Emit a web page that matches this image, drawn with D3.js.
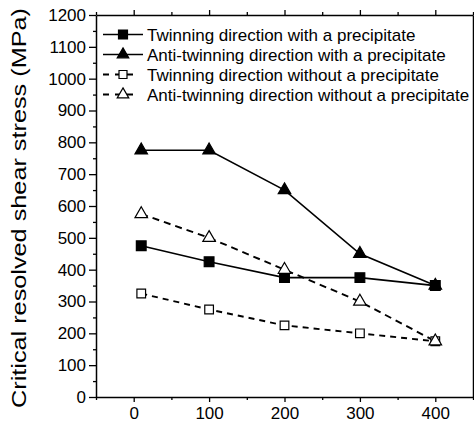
<!DOCTYPE html>
<html>
<head>
<meta charset="utf-8">
<script src="https://cdn.jsdelivr.net/npm/d3@7"></script>
<style>
  body { margin: 0; background: #fff; }
  svg { display: block; }
  text { font-family: "Liberation Sans", Arial, sans-serif; fill: #000; }
</style>
</head>
<body>
<svg id="chart" width="474" height="424"></svg>
<script>
// data
const temps = [10, 100, 200, 300, 400];
const twinWith = [475, 425, 375, 375, 350];
const antiWith = [775, 775, 650, 450, 350];
const twinWithout = [325, 275, 225, 200, 175];
const antiWithout = [575, 500, 400, 300, 175];

const seriesNames = [
    "Twinning direction with a precipitate",
    "Anti-twinning direction with a precipitate",
    "Twinning direction without a precipitate",
    "Anti-twinning direction without a precipitate"
];

const xTicks = [0, 100, 200, 300, 400];
const yTicks = [0, 100, 200, 300, 400, 500, 600, 700, 800, 900, 1000, 1100, 1200];

const svg = d3.select("#chart");

const x = d3.scaleLinear().domain([-50, 450]).range([96, 473]);
const y = d3.scaleLinear().domain([0, 1200]).range([397, 15]);

const minorX = d3.range(-50, 451, 50).filter(v => v % 100 !== 0);
const minorY = d3.range(50, 1200, 100);

// minor ticks first
svg.append("g").attr("transform", `translate(0,${y(0)})`)
    .call(d3.axisBottom(x).tickValues(minorX).tickSize(3).tickFormat("").tickSizeOuter(0))
    .call(g => g.select(".domain").remove());
svg.append("g").attr("transform", `translate(0,${y(1200)})`)
    .call(d3.axisTop(x).tickValues(minorX).tickSize(3).tickFormat("").tickSizeOuter(0))
    .call(g => g.select(".domain").remove());
svg.append("g").attr("transform", `translate(${x(-50)},0)`)
    .call(d3.axisLeft(y).tickValues(minorY).tickSize(3).tickFormat("").tickSizeOuter(0))
    .call(g => g.select(".domain").remove());

// bottom axis
const xAxis = svg.append("g").attr("transform", `translate(0,${y(0)})`)
    .call(d3.axisBottom(x).tickValues(xTicks).tickSize(5).tickPadding(5).tickSizeOuter(0));
xAxis.selectAll("text").style("font-size", "17px");

// top axis (ticks only)
svg.append("g").attr("transform", `translate(0,${y(1200)})`)
    .call(d3.axisTop(x).tickValues(xTicks).tickSize(5).tickFormat("").tickSizeOuter(0));

// left axis
const yAxis = svg.append("g").attr("transform", `translate(${x(-50)},0)`)
    .call(d3.axisLeft(y).tickValues(yTicks).tickFormat(d3.format("d")).tickSize(7).tickPadding(3).tickSizeOuter(0));
yAxis.selectAll("text").style("font-size", "17px");

// right border
svg.append("g").attr("transform", `translate(${x(450)},0)`)
    .call(d3.axisRight(y).tickValues([]).tickSizeOuter(0));

svg.selectAll(".domain").attr("stroke", "#000").attr("stroke-width", 1.5);
svg.selectAll(".tick line").attr("stroke", "#000").attr("stroke-width", 1.3);

// y label
svg.append("text")
    .attr("transform", "rotate(-90)")
    .attr("x", -208)
    .attr("y", 26)
    .attr("text-anchor", "middle")
    .attr("textLength", 400)
    .attr("lengthAdjust", "spacingAndGlyphs")
    .style("font-size", "20px")
    .text("Critical resolved shear stress (MPa)");

const series = [
    { name: seriesNames[0], values: twinWith, shape: d3.symbolSquare, size: 95, filled: true, dash: null },
    { name: seriesNames[1], values: antiWith, shape: d3.symbolTriangle, size: 68, filled: true, dash: null },
    { name: seriesNames[2], values: twinWithout, shape: d3.symbolSquare, size: 75, filled: false, dash: "6,5" },
    { name: seriesNames[3], values: antiWithout, shape: d3.symbolTriangle, size: 68, filled: false, dash: "7,5" }
];

const line = d3.line().x(d => x(d[0])).y(d => y(d[1]));

series.forEach(s => {
    const pts = temps.map((t, i) => [t, s.values[i]]);
    svg.append("path")
        .datum(pts)
        .attr("fill", "none")
        .attr("stroke", "#000")
        .attr("stroke-width", s.dash ? 1.9 : 1.6)
        .attr("stroke-dasharray", s.dash)
        .attr("d", line);
});

series.forEach(s => {
    const sym = d3.symbol().type(s.shape).size(s.size);
    svg.append("g").selectAll("path")
        .data(temps.map((t, i) => [t, s.values[i]]))
        .join("path")
        .attr("transform", d => `translate(${x(d[0])},${y(d[1])})`)
        .attr("d", sym)
        .attr("fill", s.filled ? "#000" : "#fff")
        .attr("stroke", "#000")
        .attr("stroke-width", 1.2);
});

// legend
const legend = svg.append("g");
series.forEach((s, i) => {
    const by = 40.5 + i * 20;
    const cy = by - 6;
    legend.append("line")
        .attr("x1", 103).attr("x2", s.dash ? 135 : 143)
        .attr("y1", cy).attr("y2", cy)
        .attr("stroke", "#000")
        .attr("stroke-width", s.dash ? 1.8 : 1.6)
        .attr("stroke-dasharray", s.dash ? "6,6" : null);
    legend.append("path")
        .attr("transform", `translate(123,${cy})`)
        .attr("d", d3.symbol().type(s.shape).size(s.size * 0.85))
        .attr("fill", s.filled ? "#000" : "#fff")
        .attr("stroke", "#000")
        .attr("stroke-width", 1.2);
    legend.append("text")
        .attr("x", 147)
        .attr("y", by)
        .style("font-size", "17px")
        .text(s.name);
});
</script>
</body>
</html>
